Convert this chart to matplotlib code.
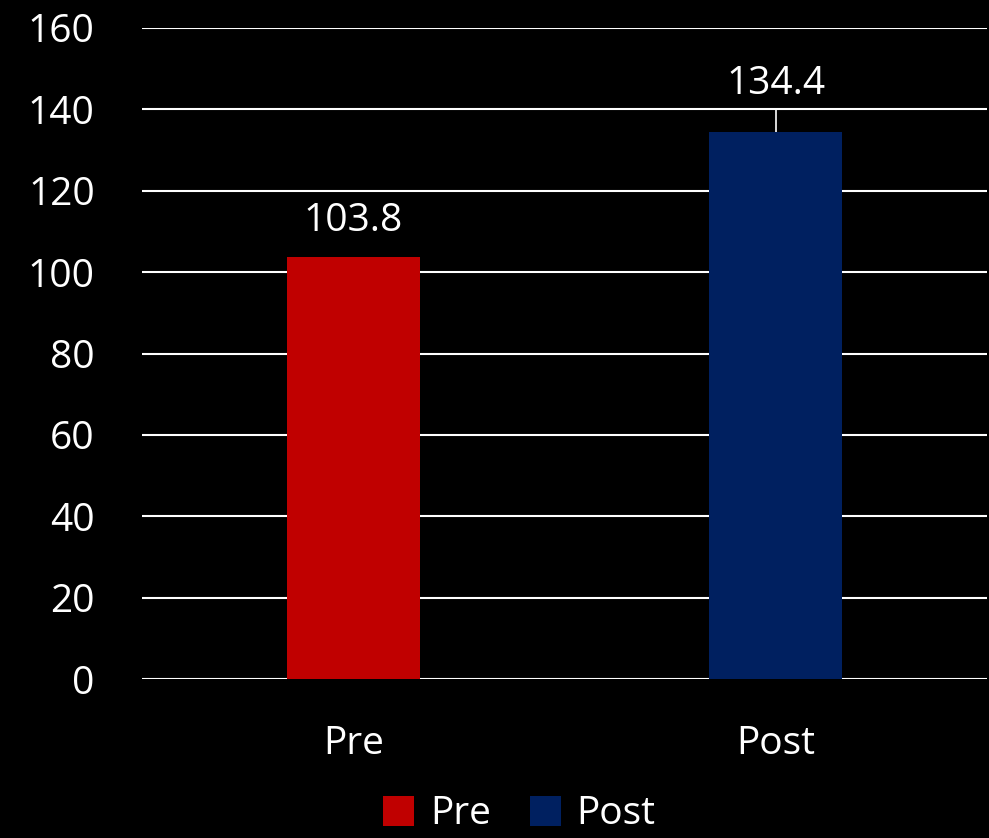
import matplotlib.pyplot as plt
from matplotlib.patches import Patch

# data
categories = ["Pre", "Post"]
values = [103.8, 134.4]
colors = ["#C00000", "#002060"]
yticks = [0, 20, 40, 60, 80, 100, 120, 140, 160]

plt.rcParams["font.family"] = ["Open Sans", "DejaVu Sans"]

fig = plt.figure(figsize=(9.89, 8.38), dpi=100, facecolor="black")
ax = fig.add_axes([0.1436, 0.1897, 0.8544, 0.7769], facecolor="black")

x = range(len(categories))
bars = ax.bar(x, values, width=0.315, color=colors, zorder=3)

ax.set_xlim(-0.5, 1.5)
ax.set_ylim(0, 160)
ax.set_yticks(yticks)
ax.set_xticks(list(x))
ax.set_xticklabels(categories)
ax.grid(axis="y", color="white", linewidth=1.5, zorder=0)
ax.tick_params(axis="both", length=0, colors="white", labelsize=28)
ax.tick_params(axis="x", pad=33)
ax.tick_params(axis="y", pad=34)
for s in ax.spines.values():
    s.set_visible(False)

# value labels, Post one has a leader line to the grid above
for i, v in enumerate(values):
    if v > 130:
        ax.vlines(i, v, 140, color="white", linewidth=1.2, zorder=4)
        ax.text(i, 141.5, f"{v}", ha="center", va="bottom", color="white", fontsize=28)
    else:
        ax.text(i, v + 4, f"{v}", ha="center", va="bottom", color="white", fontsize=28)

handles = [Patch(facecolor=c, label=l) for c, l in zip(colors, categories)]
leg = fig.legend(handles=handles, loc="lower center", bbox_to_anchor=(0.525, -0.036),
                 ncol=2, frameon=False, fontsize=28, labelcolor="white",
                 handlelength=0.8, handleheight=0.8, handletextpad=0.4, columnspacing=1.0)

fig.savefig("out.png", dpi=100, facecolor="black")
